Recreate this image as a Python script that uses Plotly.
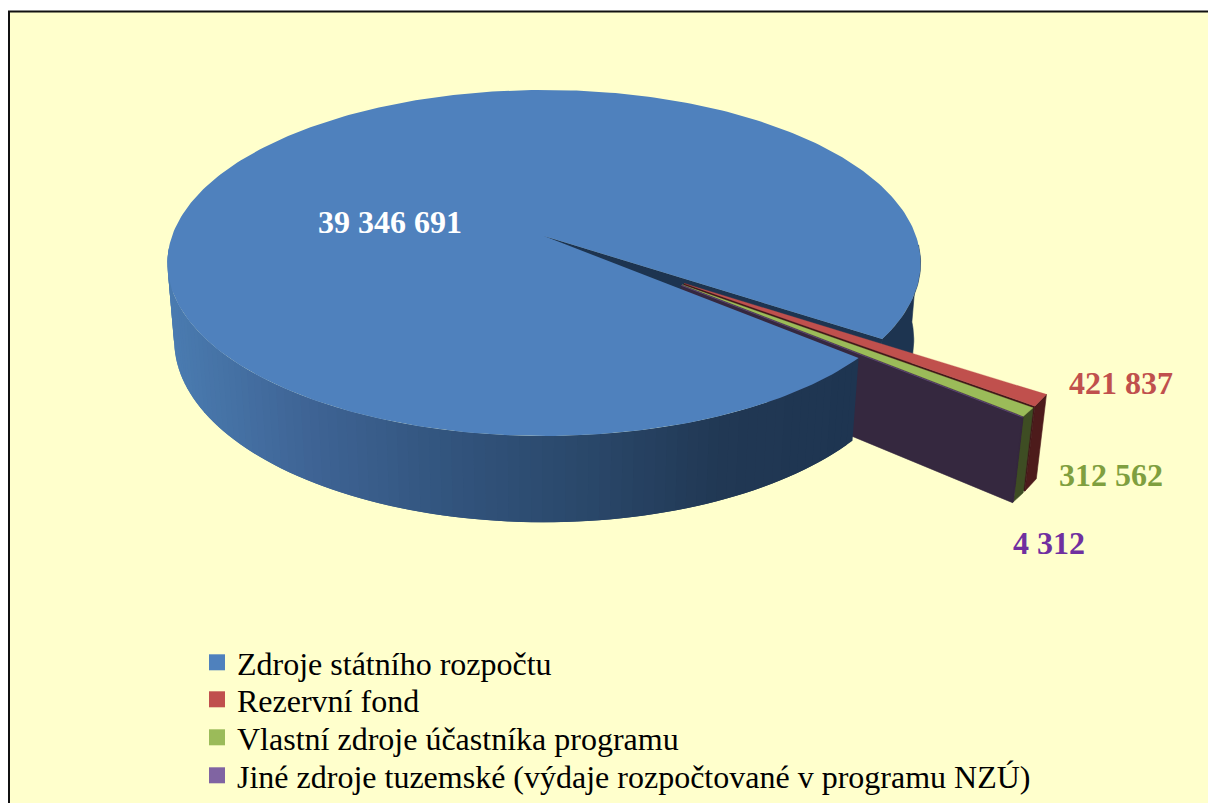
import math
import plotly.graph_objects as go

categories = ["Zdroje státního rozpočtu", "Rezervní fond", "Vlastní zdroje účastníka programu",
              "Jiné zdroje tuzemské (výdaje rozpočtované v programu NZÚ)"]
values = [39346691, 421837, 312562, 4312]
top_colors = ["#4F81BD", "#C0504D", "#9BBB59", "#8064A2"]
outer_colors = ["#1D3450", "#4D1B1B", "#3E4D23", "#35283F"]
radial_colors = ["#1D3450", "#3F1618", "#35283F", "#35283F"]
label_colors = ["#FFFFFF", "#C0504D", "#7F9F3F", "#7030A0"]
label_pos = [(390, 222), (1121, 383), (1111, 475), (1049, 543)]
legend_rows = [664, 701, 739, 777]

# canvas runs a little past the window so the last legend row needs no extra margin
CANVAS_W, CANVAS_H = 1208, 850

# projection of the tilted disc (perspective), in page pixels
CX, CY, RX, RY, PERSP, DEPTH_Y, DEPTH_W = 544.0, 236.0, 372.0, 168.8, 0.156, 78.0, 0.018
EXPLODE = 0.45
EXPLODED_RADIUS = 0.985
SPREAD = 0.35         # how far each pulled-out slice follows its own bisector
END_OF_FIRST = 33.9   # angle where the first slice ends (clockwise on screen)

wall_stops = [(170, (74, 123, 176)), (300, (63, 101, 150)), (450, (50, 84, 125)),
              (600, (41, 70, 104)), (720, (33, 56, 84)), (900, (29, 52, 80))]


def proj(u, v, z=0.0):
    w = 1 - PERSP * v + DEPTH_W * z
    return CX + RX * u / w, CY + (RY * v + DEPTH_Y * z) / w


def wall_color(x):
    if x <= wall_stops[0][0]:
        c = wall_stops[0][1]
    elif x >= wall_stops[-1][0]:
        c = wall_stops[-1][1]
    else:
        for (x0, c0), (x1, c1) in zip(wall_stops, wall_stops[1:]):
            if x0 <= x <= x1:
                t = (x - x0) / (x1 - x0)
                c = tuple(a + (b - a) * t for a, b in zip(c0, c1))
                break
    return "rgb(%d,%d,%d)" % tuple(round(a) for a in c)


fig = go.Figure()


def poly(points, color, lw=0.6):
    fig.add_trace(go.Scatter(
        x=[p[0] for p in points] + [points[0][0]],
        y=[p[1] for p in points] + [points[0][1]],
        mode="lines", fill="toself", fillcolor=color,
        line=dict(color=color, width=lw),
        hoverinfo="skip", showlegend=False))


def pt(a, r, off=(0.0, 0.0), z=0.0):
    t = math.radians(a)
    return proj(off[0] + r * math.cos(t), off[1] + r * math.sin(t), z)


def arc(a0, a1, off=(0.0, 0.0), z=0.0, step=1.0, r=1.0):
    n = max(1, int(abs(a1 - a0) / step))
    return [pt(a0 + (a1 - a0) * i / n, r, off, z) for i in range(n + 1)]


# slice angles from the values
total = sum(values)
spans = [360.0 * v / total for v in values]
first_start = END_OF_FIRST - spans[0]      # slice 1 runs clockwise and ends at END_OF_FIRST
starts, a = [], first_start
for s in spans:
    starts.append(a)
    a += s


def wall_strip(a0, a1, step=1.5):
    # each strip runs under the next one, so no seams show between them
    n = max(1, int(abs(a1 - a0) / step))
    for i in range(n):
        b0 = a0 + (a1 - a0) * i / n
        b1 = a0 + (a1 - a0) * min(i + 2, n) / n
        mid = a0 + (a1 - a0) * (i + 0.5) / n
        p = arc(b0, b1, step=0.5) + arc(b1, b0, z=1, step=0.5)
        poly(p, wall_color(pt(mid, 1)[0]), lw=0)


# back part of the main slice: outer wall behind the gap + its radial wall
poly(arc(3, END_OF_FIRST) + arc(END_OF_FIRST, 3, z=1), outer_colors[0])
poly([proj(0, 0), pt(END_OF_FIRST, 1), pt(END_OF_FIRST, 1, z=1), proj(0, 0, 1)], radial_colors[0])

# pulled-out slices
group_mid = END_OF_FIRST + sum(spans[1:]) / 2
R = EXPLODED_RADIUS
for i in range(1, len(values)):
    a0, a1 = starts[i], starts[i] + spans[i]
    mid = math.radians(group_mid + SPREAD * ((a0 + a1) / 2 - group_mid))
    off = (EXPLODE * math.cos(mid), EXPLODE * math.sin(mid))
    poly(arc(a0, a1, off, step=0.5, r=R) + arc(a1, a0, off, z=1, step=0.5, r=R), outer_colors[i])
    poly([proj(*off), pt(a1, R, off), pt(a1, R, off, 1), proj(*off, 1)], radial_colors[i])
    poly([proj(*off)] + arc(a0, a1, off, step=0.5, r=R), top_colors[i], lw=0.3)

# front part of the main slice (the visible wall from the gap round to the far left)
wall_strip(first_start, -184)
poly([proj(0, 0)] + arc(first_start, first_start + spans[0]), top_colors[0], lw=0)

# legend entries, each row placed by its own legend
legends = {}
for k, (name, col, row) in enumerate(zip(categories, top_colors, legend_rows)):
    key = "legend" if k == 0 else f"legend{k + 1}"
    fig.add_trace(go.Scatter(x=[None], y=[None], mode="markers", name=name, legend=key,
                             marker=dict(symbol="square", size=16, color=col),
                             hoverinfo="skip"))
    legends[key] = dict(x=197 / CANVAS_W, xanchor="left", y=1 - (row - 29) / CANVAS_H, yanchor="top",
                        bgcolor="rgba(0,0,0,0)", itemsizing="trace", itemclick=False,
                        itemdoubleclick=False,
                        font=dict(family="Liberation Serif", size=32, color="#000000"))

annotations = []
for val, col, (lx, ly) in zip(values, label_colors, label_pos):
    annotations.append(dict(x=lx, y=ly, xref="x", yref="y", showarrow=False,
                            text=f"{val:,}".replace(",", " "),
                            font=dict(family="Liberation Serif", size=32, color=col, weight="bold")))

fig.update_layout(
    width=CANVAS_W, height=CANVAS_H, margin=dict(l=0, r=0, t=0, b=0),
    paper_bgcolor="#FFFFFF", plot_bgcolor="#FFFFFF",
    xaxis=dict(range=[0, CANVAS_W], visible=False, fixedrange=True),
    yaxis=dict(range=[CANVAS_H, 0], visible=False, fixedrange=True),
    shapes=[dict(type="rect", xref="x", yref="y", x0=9, y0=11.5, x1=1300, y1=900, layer="below",
                 fillcolor="#FFFFCC", line=dict(color="#111111", width=2))],
    annotations=annotations,
    showlegend=True,
    **legends,
)

fig.write_html("out.html", config={"displayModeBar": False},
               post_script="document.body.style.margin='0';document.documentElement.style.overflow='hidden';")
